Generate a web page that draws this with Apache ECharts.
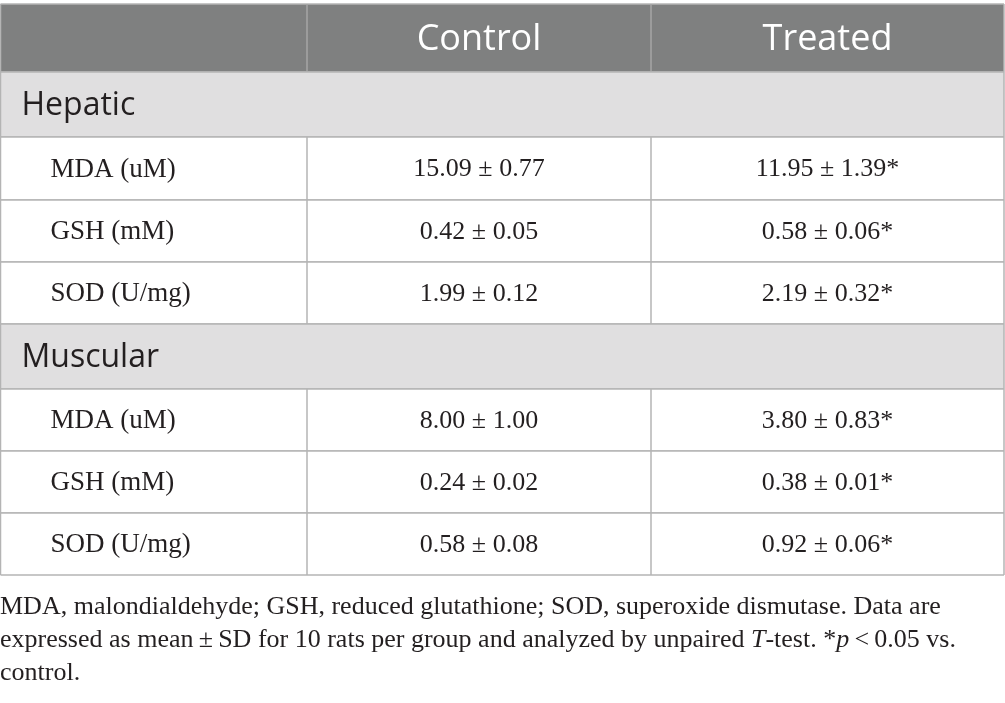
<!DOCTYPE html>
<html>
<head>
<meta charset="utf-8">
<script src="https://cdn.jsdelivr.net/npm/echarts@6/dist/echarts.min.js"></script>
<style>html,body{margin:0;padding:0;background:#fff}#main{width:1005px;height:703px}</style>
</head>
<body>
<div id="main"></div>
<script>
// ---- data ----
const columnHeaders = ['', 'Control', 'Treated'];
const groups = ['Hepatic', 'Muscular'];
const measures = ['MDA (uM)', 'GSH (mM)', 'SOD (U/mg)'];
const controlMean = [[15.09, 0.42, 1.99], [8.00, 0.24, 0.58]];
const controlSD   = [[0.77, 0.05, 0.12], [1.00, 0.02, 0.08]];
const treatedMean = [[11.95, 0.58, 2.19], [3.80, 0.38, 0.92]];
const treatedSD   = [[1.39, 0.06, 0.32], [0.83, 0.01, 0.06]];
const treatedMark = [['*', '*', '*'], ['*', '*', '*']];
const footnoteLines = [
  'MDA, malondialdehyde; GSH, reduced glutathione; SOD, superoxide dismutase. Data are',
  'expressed as mean\u2009±\u2009SD for 10 rats per group and analyzed by unpaired {i|T}-test. *{i|p}\u2009<\u20090.05 vs.',
  'control.'
];

// ---- layout ----
const colEdges = [0.5, 307, 651, 1004];
const rowEdges = [4, 72, 137, 200, 262, 324, 389, 451, 513, 575];
const footnoteCenters = [607, 640, 673];
const ink = '#231f20';
const borderColor = '#b4b4b4';

// build table rows
const rows = [];
rows.push({ type: 'header', cells: columnHeaders });
groups.forEach((g, gi) => {
  rows.push({ type: 'section', cells: [g] });
  measures.forEach((m, mi) => {
    rows.push({
      type: 'data',
      cells: [
        m,
        controlMean[gi][mi].toFixed(2) + ' ± ' + controlSD[gi][mi].toFixed(2),
        treatedMean[gi][mi].toFixed(2) + ' ± ' + treatedSD[gi][mi].toFixed(2) + treatedMark[gi][mi]
      ]
    });
  });
});

const seriesData = rows.map((r, i) => [i]);

function renderItem(params, api) {
  const ri = api.value(0);
  const row = rows[ri];
  const p0 = api.coord([colEdges[0], rowEdges[ri]]);
  const p1 = api.coord([colEdges[3], rowEdges[ri + 1]]);
  const y0 = p0[1], y1 = p1[1], x0 = p0[0], x1 = p1[0];
  const cy = (y0 + y1) / 2;
  const children = [];
  let fill = '#ffffff';
  if (row.type === 'header') fill = '#7f8080';
  if (row.type === 'section') fill = '#e0dfe0';
  children.push({ type: 'rect', shape: { x: x0, y: y0, width: x1 - x0, height: y1 - y0 }, style: { fill: fill } });
  children.push({ type: 'line', shape: { x1: x0, y1: y0, x2: x1, y2: y0 }, style: { stroke: borderColor, lineWidth: 1.5 } });
  children.push({ type: 'line', shape: { x1: x0, y1: y1, x2: x1, y2: y1 }, style: { stroke: borderColor, lineWidth: 1.5 } });
  const vCols = row.type === 'section' ? [0, 3] : [0, 1, 2, 3];
  vCols.forEach(c => {
    const x = api.coord([colEdges[c], 0])[0];
    const inner = row.type === 'header' && c > 0 && c < 3;
    children.push({ type: 'line', shape: { x1: x, y1: y0, x2: x, y2: y1 }, style: { stroke: inner ? '#a6a6a6' : borderColor, lineWidth: 1.5 } });
  });
  if (row.type === 'header') {
    for (let c = 1; c < 3; c++) {
      const xa = api.coord([colEdges[c], 0])[0], xb = api.coord([colEdges[c + 1], 0])[0];
      children.push({ type: 'text', style: { x: (xa + xb) / 2, y: cy + 2, text: row.cells[c], fill: '#ffffff', font: '36px "Open Sans"', align: 'center', verticalAlign: 'middle' } });
    }
  } else if (row.type === 'section') {
    children.push({ type: 'text', style: { x: x0 + 21, y: cy + 1, text: row.cells[0], fill: ink, font: '32px "Open Sans"', align: 'left', verticalAlign: 'middle' } });
  } else {
    children.push({ type: 'text', style: { x: x0 + 50, y: cy + 1, text: row.cells[0], fill: ink, font: '27px "Liberation Serif"', align: 'left', verticalAlign: 'middle' } });
    for (let c = 1; c < 3; c++) {
      const xa = api.coord([colEdges[c], 0])[0], xb = api.coord([colEdges[c + 1], 0])[0];
      children.push({ type: 'text', style: { x: (xa + xb) / 2, y: cy + 1, text: row.cells[c], fill: ink, font: '26px "Liberation Serif"', align: 'center', verticalAlign: 'middle' } });
    }
  }
  return { type: 'group', children: children };
}

const chart = echarts.init(document.getElementById('main'), null, { renderer: 'canvas' });
chart.setOption({
  animation: false,
  grid: { left: 0, right: 0, top: 0, bottom: 0 },
  xAxis: { type: 'value', min: 0, max: 1005, show: false },
  yAxis: { type: 'value', min: 0, max: 703, inverse: true, show: false },
  series: [{
    type: 'custom',
    renderItem: renderItem,
    data: seriesData,
    encode: { x: -1, y: -1 },
    clip: false
  }],
  graphic: footnoteLines.map((t, i) => ({
    type: 'text',
    x: 0,
    y: footnoteCenters[i],
    style: {
      text: t,
      fill: ink,
      font: '26px "Liberation Serif"',
      verticalAlign: 'middle',
      rich: { i: { fontStyle: 'italic', fontSize: 26, fontFamily: 'Liberation Serif', fill: ink } }
    }
  }))
});
</script>
</body>
</html>
